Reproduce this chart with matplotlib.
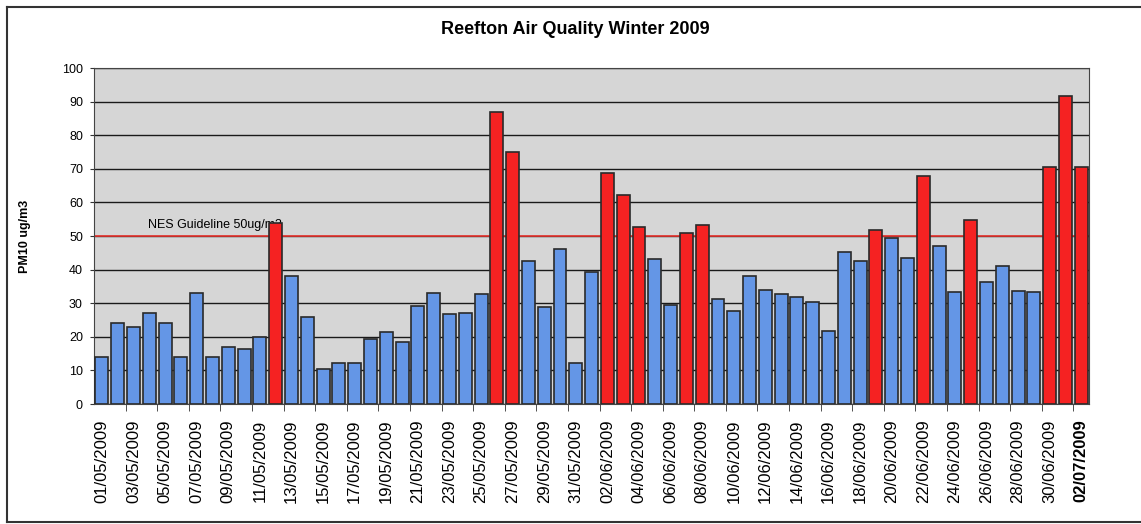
import matplotlib
matplotlib.use('Agg')
import matplotlib.pyplot as plt
from matplotlib.lines import Line2D
import pandas as pd

plt.rcParams['font.family'] = ['Liberation Sans', 'DejaVu Sans']

# daily PM10 readings, 1 May - 2 July 2009
dates = pd.date_range('2009-05-01', '2009-07-02', freq='D')
date_labels = [d.strftime('%d/%m/%Y') for d in dates]
pm10 = [14, 24, 23, 27, 24, 14, 33, 14, 17, 16.3, 20, 54, 38, 26, 10.5, 12.2,
        12.2, 19.5, 21.5, 18.5, 29.3, 33, 26.8, 27, 32.8, 86.8, 75, 42.7, 28.9,
        46, 12.2, 39.2, 68.8, 62.2, 52.7, 43.2, 29.4, 51, 53.4, 31.4, 27.7, 38.2,
        33.8, 32.7, 31.8, 30.5, 21.6, 45.2, 42.5, 51.8, 49.5, 43.5, 68, 47, 33.2,
        54.9, 36.2, 41, 33.6, 33.3, 70.5, 91.8, 70.5]
guideline = 50
guideline_text = 'NES Guideline 50ug/m3'

blue = '#6496e6'
red = '#f52222'
colors = [red if v > guideline else blue for v in pm10]

fig = plt.figure(figsize=(11.41, 5.24), dpi=100)
ax = fig.add_axes([0.0824, 0.229, 0.8722, 0.641])
ax.set_facecolor('#d6d6d6')

x = list(range(len(pm10)))
ax.bar(x, pm10, width=0.82, color=colors, edgecolor='#2a2a2a', linewidth=1.2, zorder=3)

# guideline
ax.axhline(guideline, color='#e8332e', linewidth=1.2, zorder=2)
ax.text(2.9, 53.3, guideline_text, fontsize=9, va='center', ha='left', zorder=2)

ax.set_xlim(-0.5, len(pm10) - 0.5)
ax.set_ylim(0, 100)
ax.set_yticks(range(0, 101, 10))
ax.yaxis.grid(True, color='#1a1a1a', linewidth=1.0, zorder=1)
ax.set_axisbelow(True)
ax.tick_params(axis='y', labelsize=9, length=3, pad=5, color='#333333')

ax.set_xticks(x[::2])
ax.set_xticklabels(date_labels[::2], rotation=90, fontsize=12)
ax.set_xticks([i + 0.5 for i in x[1:-1:2]], minor=True)
ax.tick_params(axis='x', which='major', length=0, pad=11)
ax.tick_params(axis='x', which='minor', length=5, color='#333333')
ax.get_xticklabels()[-1].set_fontweight('bold')

for s in ax.spines.values():
    s.set_color('#444444')

ax.set_ylabel('PM10 ug/m3', fontsize=9, fontweight='bold', labelpad=22)
fig.text(0.504, 0.944, 'Reefton Air Quality Winter 2009', fontsize=13,
         fontweight='bold', ha='center', va='center')

# outer chart frame
fig.add_artist(Line2D([0.006, 1.0], [0.987, 0.987], color='#333333', linewidth=1.5))
fig.add_artist(Line2D([0.006, 0.006], [0.004, 0.987], color='#333333', linewidth=1.5))
fig.add_artist(Line2D([0.006, 1.0], [0.004, 0.004], color='#333333', linewidth=1.5))

fig.savefig('out.png', dpi=100)
